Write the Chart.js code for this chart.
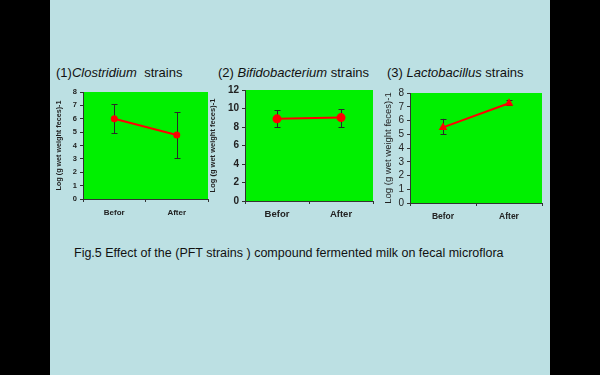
<!DOCTYPE html>
<html>
<head>
<meta charset="utf-8">
<script src="https://cdn.jsdelivr.net/npm/chart.js@4/dist/chart.umd.min.js"></script>
<style>
  html, body { margin: 0; padding: 0; }
  body { width: 600px; height: 375px; background: #000; position: relative; overflow: hidden;
         font-family: 'Liberation Sans', Arial, sans-serif; }
  #slide { position: absolute; left: 50px; top: 0; width: 500px; height: 375px; background: #bce0e3; }
  .title { position: absolute; font-size: 13px; color: #111; white-space: pre; line-height: 13px; }
  .caption { position: absolute; left: 74px; top: 247px; font-size: 12.5px; color: #111; white-space: pre; line-height: 13px; }
  canvas { position: absolute; }
</style>
</head>
<body>
<div id="slide"></div>
<div class="title" style="left:56px; top:66px;">(1)<i>Clostridium</i>  strains</div>
<div class="title" style="left:218px; top:66px;">(2) <i>Bifidobacterium</i> strains</div>
<div class="title" style="left:387px; top:66px;">(3) <i>Lactobacillus</i> strains</div>
<div class="caption">Fig.5 Effect of the (PFT strains ) compound fermented milk on fecal microflora</div>

<canvas id="c1" width="160" height="136" style="left:55px; top:84px;"></canvas>
<canvas id="c2" width="172" height="139" style="left:208px; top:81px;"></canvas>
<canvas id="c3" width="164" height="139" style="left:383px; top:84px;"></canvas>

<script>
const categories = ['Befor', 'After'];
const yTitle = 'Log (g wet weight feces)-1';

// (1) Clostridium
const clostridiumMean = [6.0, 4.78];
const clostridiumHigh = [7.08, 6.48];
const clostridiumLow = [4.92, 3.05];

// (2) Bifidobacterium
const bifidoMean = [8.88, 9.02];
const bifidoHigh = [9.8, 9.92];
const bifidoLow = [8.0, 8.0];

// (3) Lactobacillus
const lactoMean = [5.5, 7.25];
const lactoHigh = [6.12, 7.5];
const lactoLow = [5.0, 7.1];

const yMax = [8, 12, 8];
const yStep = [1, 2, 1];

const FONT = "'Liberation Sans', Arial, sans-serif";

const greenArea = {
    id: 'greenArea',
    beforeDraw(chart) {
        const a = chart.chartArea;
        const ctx = chart.ctx;
        ctx.save();
        ctx.fillStyle = '#00f000';
        ctx.fillRect(a.left, a.top, a.right - a.left, a.bottom - a.top);
        ctx.restore();
    }
};

const errorBars = {
    id: 'errorBars',
    beforeDatasetsDraw(chart) {
        const ds = chart.data.datasets[0];
        const x = chart.scales.x, y = chart.scales.y;
        const ctx = chart.ctx;
        ctx.save();
        ctx.strokeStyle = '#2a2a2a';
        ctx.lineWidth = 1;
        ds.data.forEach((v, i) => {
            const px = Math.round(x.getPixelForValue(i)) + 0.5;
            const top = y.getPixelForValue(ds.high[i]);
            const bot = y.getPixelForValue(ds.low[i]);
            ctx.beginPath();
            ctx.moveTo(px, top); ctx.lineTo(px, bot);
            ctx.moveTo(px - 3, Math.round(top) + 0.5); ctx.lineTo(px + 3, Math.round(top) + 0.5);
            ctx.moveTo(px - 3, Math.round(bot) + 0.5); ctx.lineTo(px + 3, Math.round(bot) + 0.5);
            ctx.stroke();
        });
        ctx.restore();
    }
};

function makeChart(id, opt) {
    return new Chart(document.getElementById(id), {
        type: 'line',
        data: {
            labels: categories,
            datasets: [{
                data: opt.mean,
                high: opt.high,
                low: opt.low,
                borderColor: '#ff0000',
                backgroundColor: '#ff0000',
                borderWidth: 2,
                pointStyle: opt.pointStyle,
                pointRadius: opt.pointRadius,
                pointBorderWidth: 0
            }]
        },
        options: {
            responsive: false,
            animation: false,
            events: [],
            layout: { padding: { top: opt.padTop, right: opt.padRight, left: 0, bottom: 0 } },
            plugins: { legend: { display: false }, tooltip: { enabled: false } },
            scales: {
                x: {
                    offset: true,
                    grid: { offset: true, drawOnChartArea: false, color: '#333', tickLength: 3 },
                    border: { color: '#333' },
                    ticks: { color: '#222', padding: opt.xPad, font: { family: FONT, size: opt.xSize, weight: opt.xWeight } },
                    afterFit: s => { s.height = opt.xHeight; }
                },
                y: {
                    min: 0, max: opt.max,
                    grid: { drawOnChartArea: false, color: '#333', tickLength: 3 },
                    border: { color: '#333' },
                    ticks: { stepSize: opt.step, autoSkip: false, color: '#222', padding: 3,
                             font: { family: FONT, size: opt.ySize, weight: opt.yWeight } },
                    title: { display: true, text: yTitle, color: '#222', padding: { top: 0, bottom: 0 },
                             font: { family: FONT, size: opt.tSize, weight: opt.tWeight } },
                    afterFit: s => { s.width = opt.yWidth; }
                }
            }
        },
        plugins: [greenArea, errorBars]
    });
}

makeChart('c1', {
    mean: clostridiumMean, high: clostridiumHigh, low: clostridiumLow,
    max: yMax[0], step: yStep[0], pointStyle: 'circle', pointRadius: 3.5,
    padTop: 8, padRight: 7, yWidth: 28, xHeight: 21, xPad: 6,
    xSize: 8, xWeight: 'bold', ySize: 7.5, yWeight: 'bold', tSize: 7.2, tWeight: 'bold'
});

makeChart('c2', {
    mean: bifidoMean, high: bifidoHigh, low: bifidoLow,
    max: yMax[1], step: yStep[1], pointStyle: 'circle', pointRadius: 4.5,
    padTop: 8, padRight: 7, yWidth: 37, xHeight: 19, xPad: 5,
    xSize: 9.5, xWeight: 'bold', ySize: 10, yWeight: 'bold', tSize: 7.5, tWeight: 'bold'
});

makeChart('c3', {
    mean: lactoMean, high: lactoHigh, low: lactoLow,
    max: yMax[2], step: yStep[2], pointStyle: 'triangle', pointRadius: 5,
    padTop: 8, padRight: 5, yWidth: 27, xHeight: 20, xPad: 6,
    xSize: 8.5, xWeight: 'bold', ySize: 10, yWeight: 'normal', tSize: 9.5, tWeight: 'normal'
});
</script>
</body>
</html>
